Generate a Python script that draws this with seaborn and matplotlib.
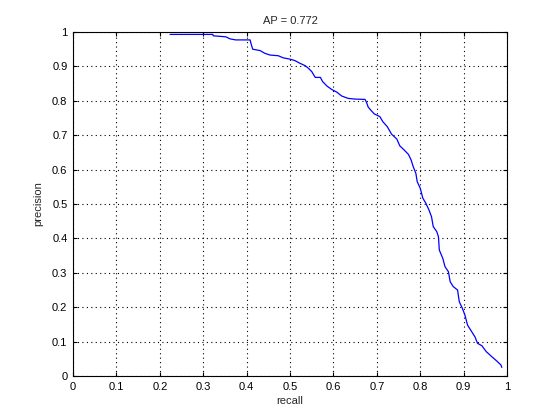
import numpy as np
import pandas as pd
import matplotlib
matplotlib.use('Agg')
import matplotlib.pyplot as plt
import seaborn as sns

# precision/recall curve points
recall = [0.2235, 0.322, 0.323, 0.352, 0.362, 0.375, 0.408, 0.410, 0.414, 0.431, 0.442, 0.454,
          0.473, 0.484, 0.500, 0.511, 0.523, 0.535, 0.542, 0.550, 0.558, 0.570, 0.575,
          0.585, 0.596, 0.608, 0.619, 0.634, 0.650, 0.673, 0.677, 0.680, 0.686, 0.694,
          0.707, 0.714, 0.724, 0.734, 0.746, 0.753, 0.763, 0.773, 0.779, 0.784,
          0.790, 0.793, 0.800, 0.806, 0.813, 0.820, 0.826, 0.830, 0.838, 0.842,
          0.844, 0.852, 0.857, 0.865, 0.869, 0.876, 0.886, 0.890, 0.897, 0.903,
          0.909, 0.916, 0.926, 0.932, 0.942, 0.952, 0.965, 0.976, 0.986, 0.988]
precision = [0.993, 0.993, 0.989, 0.986, 0.980, 0.977, 0.977, 0.967, 0.950, 0.946, 0.938, 0.933,
             0.931, 0.925, 0.921, 0.917, 0.909, 0.902, 0.895, 0.885, 0.868, 0.868, 0.856,
             0.843, 0.833, 0.825, 0.814, 0.807, 0.805, 0.804, 0.793, 0.782, 0.773, 0.762,
             0.754, 0.739, 0.725, 0.703, 0.689, 0.669, 0.657, 0.644, 0.628, 0.608,
             0.589, 0.565, 0.546, 0.517, 0.502, 0.483, 0.463, 0.434, 0.420, 0.405,
             0.366, 0.342, 0.318, 0.303, 0.274, 0.260, 0.250, 0.216, 0.197, 0.177,
             0.148, 0.134, 0.114, 0.095, 0.088, 0.071, 0.056, 0.044, 0.032, 0.025]
ap = 0.772

tick_vals = [0, 0.1, 0.2, 0.3, 0.4, 0.5, 0.6, 0.7, 0.8, 0.9, 1]
tick_labels = ['0', '0.1', '0.2', '0.3', '0.4', '0.5', '0.6', '0.7', '0.8', '0.9', '1']

df = pd.DataFrame({'recall': recall, 'precision': precision})

sns.set_style('ticks')
plt.rcParams['font.family'] = ['Liberation Sans', 'DejaVu Sans']
plt.rcParams['font.size'] = 8

fig = plt.figure(figsize=(5.6, 4.2), dpi=100)
ax = fig.add_axes([0.1304, 0.1048, 0.775, 0.8190])

sns.lineplot(data=df, x='recall', y='precision', ax=ax, color='#0000ff',
             linewidth=0.9, sort=False, estimator=None)

ax.set_xlim(0, 1)
ax.set_ylim(0, 1)
ax.set_xticks(tick_vals)
ax.set_xticklabels(tick_labels)
ax.set_yticks(tick_vals)
ax.set_yticklabels(tick_labels)
ax.grid(True, color='black', linestyle=(0, (1, 3)), linewidth=0.8)
ax.tick_params(direction='in', top=True, right=True, length=3, width=0.8,
               labelsize=8, colors='black', pad=4)
for s in ax.spines.values():
    s.set_visible(True)
    s.set_color('black')
    s.set_linewidth(0.8)

ax.set_title('AP = %.3f' % ap, fontsize=8, pad=6)
ax.set_xlabel('recall', fontsize=8, labelpad=3)
ax.set_ylabel('precision', fontsize=8, labelpad=6)

fig.savefig('out.png', dpi=100, facecolor='white')
